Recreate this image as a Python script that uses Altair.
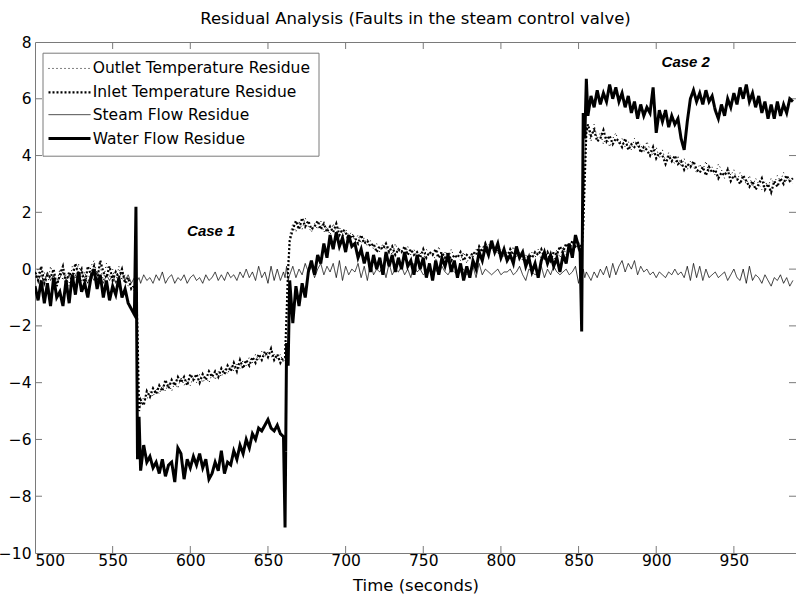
import altair as alt
import pandas as pd

# Sample times (s): 2 s grid, denser around the two fault onsets
time = (list(range(500, 565, 2)) + [565, 566, 567] + list(range(568, 661, 2))
        + [661, 662, 663] + list(range(664, 851, 2)) + [851, 852, 853, 854, 855]
        + list(range(856, 989, 2)))

outlet_temp = [
    # 500-564
    -0.3, 0.0, -0.5, -0.1, -0.6, 0.1, -0.3, -0.5, 0.0, -0.4,
    -0.2, -0.6, 0.1, -0.3, 0.2, -0.4, -0.1, -0.5, 0.1, 0.3,
    -0.2, 0.1, -0.4, 0.2, -0.3, 0.0, -0.5, 0.1, -0.4, -0.2,
    -0.6, -0.5, -0.8,
    # 565-567
    -0.6, -2.6, -4.9,
    # 568-660
    -4.8, -4.5, -4.6, -4.3, -4.5, -4.2, -4.4, -4.1, -4.3, -4.0,
    -4.3, -4.0, -4.2, -3.8, -4.1, -3.9, -4.1, -3.8, -4.0, -3.7,
    -4.0, -3.8, -4.0, -3.7, -3.9, -3.6, -3.8, -3.5, -3.7, -3.4,
    -3.6, -3.3, -3.5, -3.2, -3.4, -3.1, -3.3, -3.0, -3.2, -2.9,
    -3.1, -2.9, -3.1, -3.0, -3.2, -3.0, -3.3,
    # 661-663
    -3.0, -1.2, 0.3,
    # 664-850
    1.2, 1.6, 1.3, 1.7, 1.4, 1.8, 1.5, 1.3, 1.6, 1.4,
    1.7, 1.3, 1.5, 1.2, 1.6, 1.3, 1.5, 1.1, 1.4, 1.2,
    1.3, 1.0, 1.2, 0.9, 1.1, 0.8, 1.0, 0.7, 0.9, 0.6,
    0.9, 0.7, 0.8, 0.5, 0.9, 0.6, 0.7, 0.4, 0.8, 0.5,
    0.7, 0.4, 0.6, 0.3, 0.7, 0.5, 0.6, 0.3, 0.8, 0.4,
    0.6, 0.3, 0.7, 0.4, 0.5, 0.3, 0.6, 0.2, 0.5, 0.4,
    0.7, 0.5, 0.8, 0.6, 0.9, 0.7, 0.8, 0.5, 0.7, 0.4,
    0.6, 0.5, 0.8, 0.4, 0.6, 0.3, 0.5, 0.2, 0.6, 0.4,
    0.7, 0.3, 0.6, 0.4, 0.5, 0.3, 0.7, 0.4, 0.8, 0.5,
    0.9, 0.6, 1.0, 0.8,
    # 851-855
    0.8, 0.9, 1.8, 3.5, 5.0,
    # 856-988
    4.9, 4.5, 5.1, 4.6, 4.8, 4.4, 4.7, 4.3, 4.6, 4.8,
    4.4, 4.6, 4.3, 4.5, 4.2, 4.6, 4.3, 4.4, 4.1, 4.5,
    4.2, 4.0, 4.3, 3.9, 4.2, 3.8, 4.1, 3.9, 3.7, 4.0,
    3.6, 3.9, 3.5, 3.8, 3.6, 3.4, 3.7, 3.5, 3.8, 3.4,
    3.6, 3.3, 3.7, 3.5, 3.2, 3.6, 3.3, 3.5, 3.1, 3.4,
    3.2, 3.0, 3.3, 2.9, 3.2, 3.0, 2.8, 3.1, 2.9, 3.2,
    3.0, 3.3, 3.1, 3.4, 3.1, 3.2, 3.0,
]

inlet_temp = [
    # 500-564
    -0.1, -0.4, 0.1, -0.5, -0.2, -0.3, 0.0, -0.6, -0.2, 0.1,
    -0.5, -0.1, -0.3, 0.2, -0.2, 0.0, -0.6, 0.1, -0.2, 0.1,
    -0.4, 0.3, -0.1, -0.3, 0.1, -0.4, -0.1, -0.3, 0.0, -0.5,
    -0.3, -0.7, -0.6,
    # 565-567
    -0.5, -2.2, -5.0,
    # 568-660
    -4.6, -4.8, -4.3, -4.5, -4.2, -4.4, -4.1, -4.3, -3.9, -4.2,
    -3.9, -4.1, -3.8, -4.0, -3.8, -4.1, -3.7, -3.9, -3.7, -4.0,
    -3.7, -3.9, -3.6, -3.8, -3.6, -3.8, -3.5, -3.7, -3.4, -3.6,
    -3.3, -3.6, -3.2, -3.5, -3.2, -3.4, -3.1, -3.3, -3.0, -3.2,
    -2.9, -3.1, -2.8, -3.2, -3.0, -3.3, -3.1,
    # 661-663
    -3.1, -1.6, 0.0,
    # 664-850
    1.0, 1.4, 1.7, 1.4, 1.8, 1.5, 1.7, 1.4, 1.5, 1.7,
    1.4, 1.6, 1.3, 1.5, 1.3, 1.6, 1.2, 1.4, 1.3, 1.0,
    1.2, 1.1, 0.9, 1.2, 0.9, 1.0, 0.8, 0.9, 0.6, 0.8,
    0.7, 0.9, 0.6, 0.8, 0.5, 0.7, 0.6, 0.8, 0.5, 0.7,
    0.5, 0.6, 0.4, 0.7, 0.4, 0.6, 0.5, 0.7, 0.4, 0.6,
    0.4, 0.6, 0.3, 0.5, 0.4, 0.6, 0.3, 0.5, 0.4, 0.6,
    0.5, 0.8, 0.6, 0.9, 0.6, 0.8, 0.6, 0.7, 0.5, 0.6,
    0.4, 0.7, 0.5, 0.6, 0.4, 0.5, 0.3, 0.5, 0.4, 0.6,
    0.5, 0.7, 0.4, 0.6, 0.3, 0.6, 0.5, 0.8, 0.6, 0.9,
    0.7, 1.0, 0.8, 0.9,
    # 851-855
    0.9, 0.7, 1.5, 3.2, 4.8,
    # 856-988
    5.1, 4.7, 4.9, 4.5, 4.6, 4.9, 4.5, 4.7, 4.4, 4.6,
    4.5, 4.3, 4.6, 4.2, 4.4, 4.3, 4.5, 4.1, 4.3, 4.2,
    4.0, 4.3, 3.9, 4.1, 4.0, 3.7, 4.0, 3.8, 4.0, 3.7,
    3.8, 3.5, 3.7, 3.6, 3.8, 3.5, 3.4, 3.6, 3.3, 3.6,
    3.4, 3.5, 3.2, 3.4, 3.3, 3.5, 3.1, 3.3, 3.2, 3.0,
    3.3, 3.1, 2.9, 3.1, 2.8, 3.0, 3.2, 2.8, 3.0, 2.7,
    3.1, 2.9, 3.2, 3.0, 3.3, 3.1, 3.2,
]

steam_flow = [
    # 500-564
    -0.1, -0.4, -0.2, -0.5, -0.1, -0.4, -0.2, -0.5, -0.3, -0.1,
    -0.4, -0.2, -0.5, -0.2, -0.4, -0.1, -0.3, -0.5, -0.2, -0.4,
    -0.1, -0.3, -0.5, -0.2, -0.4, -0.2, -0.5, -0.3, -0.1, -0.4,
    -0.2, -0.5, -0.3,
    # 565-567
    -0.2, -0.4, -0.3,
    # 568-660
    -0.5, -0.2, -0.4, -0.3, -0.5, -0.2, -0.4, -0.1, -0.5, -0.3,
    -0.2, -0.5, -0.3, -0.4, -0.2, -0.5, -0.3, -0.2, -0.4, -0.3,
    -0.5, -0.2, -0.4, -0.3, -0.1, -0.4, -0.2, -0.4, -0.1, -0.3,
    -0.2, -0.4, -0.1, -0.3, 0.0, -0.3, -0.1, -0.4, 0.1, -0.3,
    -0.1, -0.5, 0.1, -0.4, 0.0, -0.4, -0.1,
    # 661-663
    -0.3, 0.1, -0.4,
    # 664-850
    -0.2, 0.1, -0.3, 0.0, -0.2, 0.2, -0.1, 0.1, -0.3, 0.0,
    0.2, -0.2, 0.1, -0.1, 0.2, -0.3, 0.3, -0.4, 0.1, -0.2,
    0.0, -0.1, 0.2, -0.3, 0.1, -0.4, 0.2, -0.2, 0.0, -0.1,
    0.1, -0.3, 0.2, -0.2, 0.0, -0.1, 0.1, -0.2, 0.0, -0.3,
    0.2, -0.1, 0.0, -0.2, -0.1, 0.1, -0.3, 0.0, -0.2, 0.1,
    -0.1, -0.2, 0.0, -0.1, -0.2, -0.1, 0.0, -0.2, -0.1, 0.1,
    -0.3, 0.2, -0.2, 0.0, -0.1, -0.2, -0.1, 0.0, -0.2, -0.1,
    -0.1, 0.0, -0.2, -0.1, 0.1, -0.2, -0.4, 0.0, -0.1, -0.2,
    -0.1, 0.1, -0.3, 0.0, -0.2, 0.1, -0.1, -0.2, -0.1, 0.0,
    -0.2, -0.1, 0.1, -0.5,
    # 851-855
    -0.2, -0.4, 0.0, -0.3, -0.1,
    # 856-988
    -0.2, -0.4, -0.1, -0.3, 0.0, -0.2, 0.1, -0.3, 0.2, -0.2,
    0.1, 0.3, -0.1, 0.2, 0.0, 0.3, -0.2, 0.1, -0.1, 0.0,
    -0.2, -0.1, -0.3, -0.1, -0.2, -0.3, -0.1, -0.2, 0.0, -0.2,
    -0.1, -0.3, 0.1, -0.4, 0.2, -0.3, 0.1, -0.4, 0.0, -0.3,
    -0.2, -0.1, -0.3, -0.2, -0.1, -0.4, -0.2, 0.0, -0.3, -0.4,
    0.0, -0.5, 0.1, -0.4, -0.2, -0.3, -0.5, -0.2, -0.4, -0.6,
    -0.3, -0.4, -0.2, -0.5, -0.3, -0.6, -0.4,
]

water_flow = [
    # 500-564
    -0.6, -1.1, -0.4, -1.2, -0.5, -1.3, -0.3, -1.0, -0.8, -1.3,
    -0.4, -1.2, -0.2, -0.9, -0.1, -0.8, -0.5, -1.0, -0.3, 0.0,
    -0.7, -0.2, -1.0, -0.4, -1.1, -0.6, -0.9, -0.3, -1.0, -0.7,
    -1.2, -1.4, -1.6,
    # 565-567
    2.2, -6.7, -5.2,
    # 568-660
    -7.1, -6.2, -6.8, -6.6, -7.0, -6.8, -7.2, -6.7, -7.3, -6.9,
    -6.8, -7.5, -6.3, -6.5, -7.4, -6.7, -7.0, -6.6, -6.9, -6.5,
    -7.0, -6.7, -7.4, -7.2, -6.8, -7.1, -6.4, -7.2, -6.8, -6.9,
    -6.4, -6.7, -6.2, -6.5, -6.0, -6.3, -5.8, -6.0, -5.6, -5.7,
    -5.5, -5.3, -5.6, -5.7, -5.5, -5.8, -5.9,
    # 661-663
    -9.1, -2.6, -3.4,
    # 664-850
    -0.4, -1.9, -0.6, -1.3, -0.5, -1.0, -0.1, 0.3, -0.2, 0.5,
    0.2, 0.9, 0.4, 1.2, 0.7, 1.3, 0.8, 1.1, 0.6, 1.2,
    0.8, 0.9, 0.4, 0.7, 0.2, 0.6, -0.1, 0.5, 0.0, 0.4,
    -0.2, 0.6, 0.1, 0.5, -0.1, 0.4, 0.0, 0.6, 0.1, 0.3,
    -0.2, 0.5, 0.0, 0.4, -0.3, 0.2, -0.4, 0.3, -0.2, 0.4,
    0.1, 0.5, -0.1, 0.3, -0.3, 0.2, -0.4, 0.1, -0.3, 0.3,
    0.0, 0.6, 0.3, 0.8, 0.5, 1.0, 0.6, 0.9, 0.4, 0.7,
    0.3, 0.5, 0.2, 0.8, 0.4, 0.6, 0.1, 0.4, -0.1, 0.2,
    -0.3, 0.3, 0.6, 0.2, 0.5, 0.1, 0.4, -0.1, 0.5, 0.2,
    0.9, 0.4, 1.2, 0.8,
    # 851-855
    0.6, -2.2, 5.5, 4.6, 6.7,
    # 856-988
    5.4, 6.1, 5.7, 6.3, 5.8, 6.2, 5.9, 6.5, 6.0, 6.4,
    5.9, 6.2, 5.7, 6.1, 5.5, 5.9, 5.3, 5.8, 5.4, 5.7,
    5.5, 6.4, 4.8, 5.6, 5.2, 5.6, 5.0, 5.4, 5.1, 5.3,
    4.6, 4.2, 5.2, 6.0, 6.3, 5.9, 6.2, 5.8, 6.3, 5.9,
    6.1, 5.6, 5.3, 5.8, 5.4, 6.0, 5.7, 6.2, 5.8, 6.4,
    6.0, 6.5, 5.9, 6.2, 5.7, 6.1, 5.5, 5.9, 5.3, 5.8,
    5.3, 5.9, 5.4, 5.8, 5.5, 6.0, 5.9,
]

series_names = [
    "Outlet Temperature Residue",
    "Inlet Temperature Residue",
    "Steam Flow Residue",
    "Water Flow Residue",
]
series_values = [outlet_temp, inlet_temp, steam_flow, water_flow]
for vals in series_values:
    assert len(vals) == len(time), len(vals)

x_ticks = [500, 550, 600, 650, 700, 750, 800, 850, 900, 950]
y_ticks = [-10, -8, -6, -4, -2, 0, 2, 4, 6, 8]

case_labels = ["Case 1", "Case 2"]
case_t = [613.5, 919.0]
case_value = [1.35, 7.31]

rows = []
for name, vals in zip(series_names, series_values):
    for t, v in zip(time, vals):
        rows.append({"t": t, "value": v, "series": name})
df = pd.DataFrame(rows)

W, H = 761, 511
AXIS_GREY = "#7a7a7a"
FONT = "DejaVu Sans"

x_scale = alt.Scale(domain=[500, 990], nice=False, zero=False)
y_scale = alt.Scale(domain=[-10, 8], nice=False, zero=False)

lines = alt.Chart(df).mark_line(clip=True).encode(
    x=alt.X("t:Q", scale=x_scale,
            axis=alt.Axis(values=x_ticks, title="Time (seconds)", format="d")),
    y=alt.Y("value:Q", scale=y_scale,
            axis=alt.Axis(values=y_ticks, title=None, format="d")),
    color=alt.Color("series:N", title=None,
                    scale=alt.Scale(domain=series_names, range=["#000000"] * 4)),
    strokeDash=alt.StrokeDash("series:N", title=None,
                              scale=alt.Scale(domain=series_names,
                                              range=[[1, 3], [2, 2], [1, 0], [1, 0]])),
    strokeWidth=alt.StrokeWidth("series:N", title=None,
                                scale=alt.Scale(type="ordinal", domain=series_names,
                                                range=[1.0, 2.2, 0.8, 3.0])),
)

# inward-pointing ticks on all four sides of the box
xt = pd.DataFrame({"t": x_ticks[1:]})
yt = pd.DataFrame({"value": y_ticks[1:-1]})
tick_x = alt.X("t:Q", scale=x_scale)
tick_y = alt.Y("value:Q", scale=y_scale)
bottom_ticks = alt.Chart(xt).mark_rule(color=AXIS_GREY).encode(
    x=tick_x, y=alt.value(H), y2=alt.value(H - 7))
top_ticks = alt.Chart(xt).mark_rule(color=AXIS_GREY).encode(
    x=tick_x, y=alt.value(0), y2=alt.value(7))
left_ticks = alt.Chart(yt).mark_rule(color=AXIS_GREY).encode(
    y=tick_y, x=alt.value(0), x2=alt.value(7))
right_ticks = alt.Chart(yt).mark_rule(color=AXIS_GREY).encode(
    y=tick_y, x=alt.value(W), x2=alt.value(W - 7))

cases = alt.Chart(pd.DataFrame({"t": case_t, "value": case_value, "label": case_labels})).mark_text(
    font="Liberation Sans", fontSize=15, fontWeight="bold", fontStyle="italic", color="black"
).encode(x=tick_x, y=tick_y, text="label:N")

chart = alt.layer(
    bottom_ticks, top_ticks, left_ticks, right_ticks, lines, cases
).properties(
    width=W, height=H,
    autosize="none",
    padding={"left": 35, "top": 42, "right": 0, "bottom": 45},
    background="white",
    title=alt.TitleParams(
        "Residual Analysis (Faults in the steam control valve)",
        font=FONT, fontSize=16.5, fontWeight="normal", color="black",
        anchor="middle", offset=8,
    ),
).configure_view(
    stroke=AXIS_GREY, strokeWidth=1
).configure_axis(
    labelFont=FONT, labelFontSize=15.5, labelColor="black",
    titleFont=FONT, titleFontSize=16.5, titleFontWeight="normal", titleColor="black",
    domain=False, ticks=False, tickSize=0, grid=False,
).configure_axisX(
    labelPadding=0, titlePadding=9,
).configure_axisY(
    labelPadding=4,
).configure_legend(
    orient="none", legendX=7.5, legendY=10.7,
    symbolType="M-3,0H3", symbolSize=196, symbolOffset=10.5,
    labelFont=FONT, labelFontSize=15.5, labelColor="black", labelLimit=400,
    fillColor="white", strokeColor=AXIS_GREY, padding=8,
    rowPadding=6.1, labelOffset=14.7,
)

chart.save("out.html", embed_options={"renderer": "svg", "actions": False})
